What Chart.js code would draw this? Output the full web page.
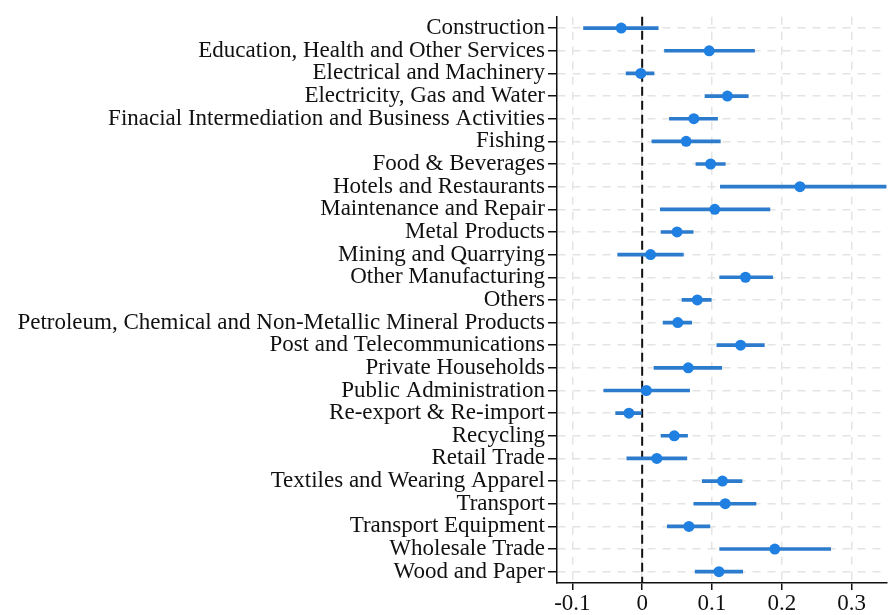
<!DOCTYPE html>
<html>
<head>
<meta charset="utf-8">
<title>Sector estimates</title>
<script src="https://cdn.jsdelivr.net/npm/chart.js@4/dist/chart.umd.min.js"></script>
<style>
  html, body { margin: 0; padding: 0; background: #fff; }
  #chart { display: block; }
</style>
</head>
<body>
<canvas id="chart" width="892" height="615"></canvas>
<script>
'use strict';

var sectors = [
  'Construction',
  'Education, Health and Other Services',
  'Electrical and Machinery',
  'Electricity, Gas and Water',
  'Finacial Intermediation and Business Activities',
  'Fishing',
  'Food & Beverages',
  'Hotels and Restaurants',
  'Maintenance and Repair',
  'Metal Products',
  'Mining and Quarrying',
  'Other Manufacturing',
  'Others',
  'Petroleum, Chemical and Non-Metallic Mineral Products',
  'Post and Telecommunications',
  'Private Households',
  'Public Administration',
  'Re-export & Re-import',
  'Recycling',
  'Retail Trade',
  'Textiles and Wearing Apparel',
  'Transport',
  'Transport Equipment',
  'Wholesale Trade',
  'Wood and Paper'
];

var estimates = [-0.030, 0.096, -0.002, 0.122, 0.074, 0.063, 0.098, 0.226, 0.104, 0.050,
                 0.012, 0.148, 0.079, 0.051, 0.141, 0.066, 0.006, -0.019, 0.046, 0.021,
                 0.115, 0.119, 0.067, 0.190, 0.110];
var lowerCI = [-0.084, 0.032, -0.023, 0.090, 0.039, 0.014, 0.077, 0.112, 0.026, 0.027,
               -0.035, 0.111, 0.057, 0.030, 0.107, 0.017, -0.055, -0.038, 0.027, -0.022,
               0.086, 0.074, 0.036, 0.111, 0.076];
var upperCI = [0.023, 0.161, 0.017, 0.152, 0.108, 0.112, 0.119, 0.350, 0.183, 0.073,
               0.059, 0.187, 0.099, 0.071, 0.175, 0.114, 0.068, 0.000, 0.065, 0.064,
               0.143, 0.163, 0.097, 0.270, 0.144];
var xTicks = [-0.1, 0, 0.1, 0.2, 0.3];

(function () {
  var ctx = document.getElementById('chart').getContext('2d');
  var dotColor = '#1f80e2';
  var barColor = '#2c7bcc';
  var gridColor = '#e4e4e4';
  var fontSpec = { family: "'Liberation Serif', 'Times New Roman', serif", size: 23 };

  var intervals = [];
  for (var i = 0; i < sectors.length; i++) {
    intervals.push([lowerCI[i], upperCI[i]]);
  }

  // dashed reference line at zero, under the markers
  var zeroLine = {
    id: 'zeroLine',
    beforeDatasetsDraw: function (chart) {
      var area = chart.chartArea;
      var x = chart.scales.x.getPixelForValue(0);
      var c = chart.ctx;
      c.save();
      c.strokeStyle = '#111';
      c.lineWidth = 2;
      c.setLineDash([9, 5]);
      c.beginPath();
      c.moveTo(x, area.top);
      c.lineTo(x, area.bottom);
      c.stroke();
      c.restore();
    }
  };

  new Chart(ctx, {
    type: 'bar',
    data: {
      labels: sectors,
      datasets: [
        {
          type: 'line',
          data: estimates,
          showLine: false,
          pointRadius: 5.5,
          pointHoverRadius: 5.5,
          pointBackgroundColor: dotColor,
          pointBorderColor: dotColor,
          pointBorderWidth: 0,
          order: 0
        },
        {
          type: 'bar',
          data: intervals,
          backgroundColor: barColor,
          borderWidth: 0,
          borderSkipped: false,
          barThickness: 3,
          order: 1
        }
      ]
    },
    options: {
      indexAxis: 'y',
      responsive: false,
      animation: false,
      layout: { padding: { top: 15, right: 0, bottom: 0, left: 0 } },
      plugins: {
        legend: { display: false },
        tooltip: { enabled: false }
      },
      scales: {
        x: {
          type: 'linear',
          min: -0.122,
          max: 0.35,
          afterBuildTicks: function (scale) {
            scale.ticks = xTicks.map(function (v) { return { value: v }; });
          },
          afterFit: function (scale) { scale.height = 32; },
          ticks: {
            color: '#111',
            font: fontSpec,
            padding: 0,
            maxRotation: 0,
            callback: function (v) { return String(Math.round(v * 10) / 10); }
          },
          grid: {
            color: gridColor,
            lineWidth: 1.5,
            tickColor: '#111',
            tickLength: 7,
            tickWidth: 1.5
          },
          border: { color: '#111', width: 1.5, dash: [8, 7] }
        },
        y: {
          type: 'category',
          offset: true,
          afterFit: function (scale) { scale.width = 557; },
          ticks: {
            color: '#111',
            font: fontSpec,
            padding: 3,
            autoSkip: false
          },
          grid: {
            offset: false,
            color: gridColor,
            lineWidth: 1.5,
            tickColor: '#111',
            tickLength: 9,
            tickWidth: 1.5
          },
          border: { color: '#111', width: 1.5, dash: [8, 7] }
        }
      }
    },
    plugins: [zeroLine]
  });
})();
</script>
</body>
</html>
